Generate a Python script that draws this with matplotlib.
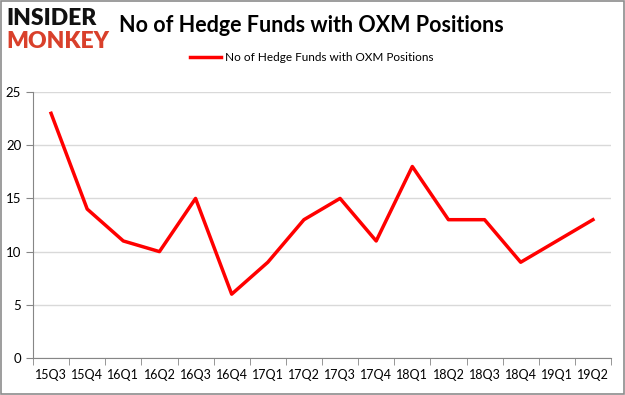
import matplotlib.pyplot as plt
from matplotlib.patches import Rectangle

plt.rcParams['font.family'] = ['Lato', 'DejaVu Sans']

# Quarters and hedge fund counts
quarters = ['15Q3', '15Q4', '16Q1', '16Q2', '16Q3', '16Q4', '17Q1', '17Q2',
            '17Q3', '17Q4', '18Q1', '18Q2', '18Q3', '18Q4', '19Q1', '19Q2']
funds = [23, 14, 11, 10, 15, 6, 9, 13, 15, 11, 18, 13, 13, 9, 11, 13]
y_ticks = [0, 5, 10, 15, 20, 25]

fig = plt.figure(figsize=(6.25, 3.95), dpi=100)
ax = fig.add_axes([0.0528, 0.0937, 0.9248, 0.6733])

x = list(range(len(quarters)))
ax.plot(x, funds, color='#ff0000', linewidth=2.5, label='No of Hedge Funds with OXM Positions')

ax.set_xlim(-0.5, len(quarters) - 0.5)
ax.set_ylim(0, 25)
ax.set_yticks(y_ticks)
ax.set_xticks(x)
ax.set_xticklabels(quarters)
ax.set_xticks([i - 0.5 for i in range(len(quarters) + 1)], minor=True)
ax.tick_params(axis='x', which='major', length=0, labelsize=9, pad=8)
ax.tick_params(axis='x', which='minor', length=5, color='#868686')
ax.tick_params(axis='y', length=5, color='#868686', labelsize=9.5)
ax.grid(axis='y', color='#d9d9d9', linewidth=1)
ax.set_axisbelow(True)
for side in ['top', 'right']:
    ax.spines[side].set_visible(False)
ax.spines['bottom'].set_color('#868686')
ax.spines['left'].set_color('#868686')

# Legend above the plot
ax.legend(loc='center', bbox_to_anchor=(0.4825, 1.13), frameon=False, fontsize=8.5,
          handlelength=2.6, handletextpad=0.4)

# Title
fig.text(0.498, 0.935, 'No of Hedge Funds with OXM Positions', ha='center', va='center',
         fontsize=15.5, fontweight='bold', color='black')

# Logo
fig.text(0.01, 0.953, 'INSIDER', ha='left', va='center', fontsize=16.5,
         fontweight='heavy', color='#111111')
fig.text(0.01, 0.895, 'MONKEY', ha='left', va='center', fontsize=16.5,
         fontweight='heavy', color='#d9402b')

# Outer border
fig.patches.append(Rectangle((0.001, 0.002), 0.997, 0.996, transform=fig.transFigure,
                             fill=False, edgecolor='#8c8c8c', linewidth=1.2))

fig.savefig('out.png', dpi=100)
